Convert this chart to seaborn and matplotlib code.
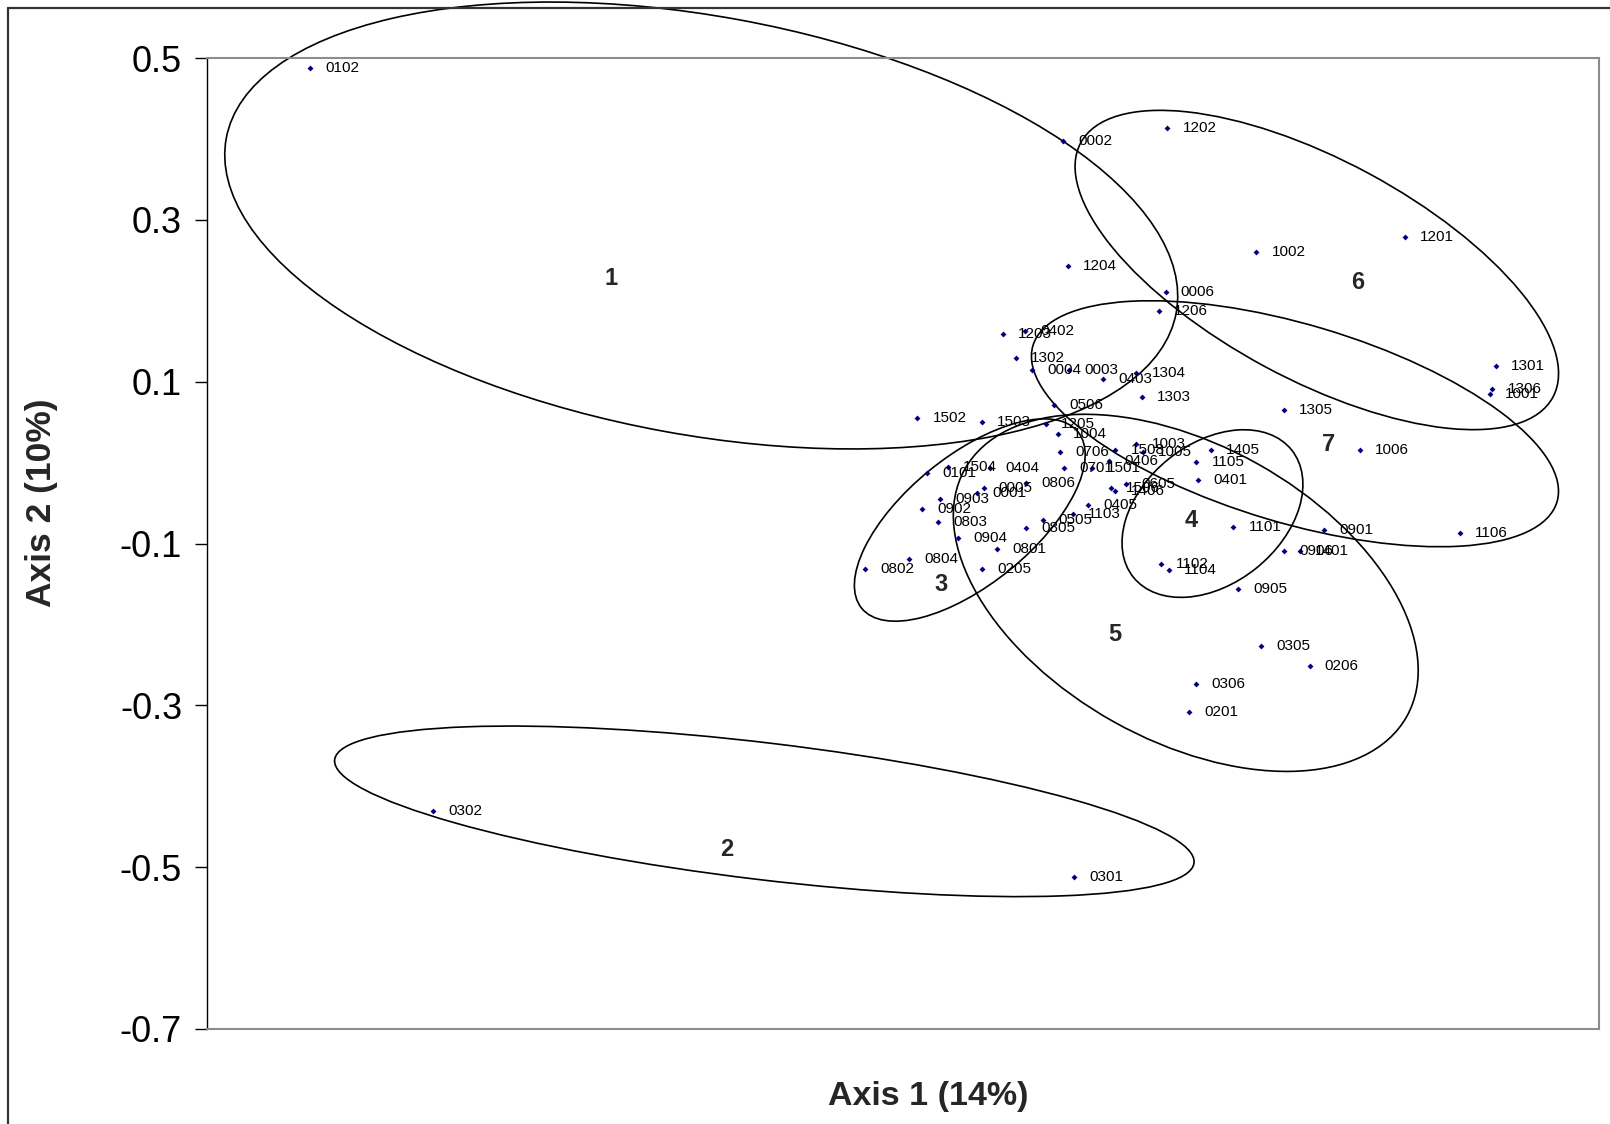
import matplotlib
matplotlib.use("Agg")
import matplotlib.pyplot as plt
from matplotlib.patches import Ellipse
from matplotlib.lines import Line2D
import seaborn as sns
import pandas as pd

# ---- data: sample labels and PCoA scores (axis 1 arbitrary units, axis 2 as read) ----
labels = ["0102", "0002", "1202", "1002", "1201", "1204", "0006", "1206", "1203", "0402",
          "1302", "0004", "0003", "0403", "1304", "1303", "0506", "1502", "1503", "1205",
          "1004", "0706", "0701", "1501", "0406", "1508", "1003", "1005", "1405", "1105",
          "0401", "1506", "1406", "0605", "0405", "1103", "0505", "0805", "0801", "0205",
          "0904", "0803", "0902", "0903", "0101", "1504", "0404", "0001", "0005", "0806",
          "0802", "0804", "1101", "0901", "1102", "1104", "0905", "1006", "1301", "1306",
          "1001", "1305", "1106", "0906", "1401", "0305", "0206", "0306", "0201", "0302",
          "0301"]
axis1 = [-0.923, 0.008, 0.137, 0.247, 0.431, 0.014, 0.135, 0.127, -0.066, -0.039,
         -0.050, -0.030, 0.016, 0.058, 0.099, 0.106, -0.003, -0.172, -0.092, -0.013,
         0.002, 0.005, 0.009, 0.044, 0.065, 0.073, 0.099, 0.107, 0.191, 0.173,
         0.175, 0.067, 0.073, 0.086, 0.039, 0.020, -0.016, -0.038, -0.073, -0.092,
         -0.122, -0.146, -0.166, -0.144, -0.160, -0.134, -0.082, -0.098, -0.090, -0.037,
         -0.236, -0.182, 0.219, 0.331, 0.129, 0.139, 0.225, 0.375, 0.543, 0.539,
         0.536, 0.281, 0.499, 0.281, 0.301, 0.253, 0.313, 0.173, 0.164, -0.771,
         0.022]
axis2 = [0.488, 0.397, 0.414, 0.260, 0.279, 0.243, 0.211, 0.187, 0.159, 0.163,
         0.129, 0.114, 0.114, 0.103, 0.111, 0.081, 0.071, 0.055, 0.050, 0.048,
         0.035, 0.013, -0.007, -0.007, 0.002, 0.015, 0.023, 0.013, 0.015, 0.001,
         -0.021, -0.031, -0.035, -0.027, -0.053, -0.063, -0.071, -0.081, -0.107, -0.131,
         -0.093, -0.073, -0.057, -0.045, -0.013, -0.005, -0.007, -0.037, -0.031, -0.025,
         -0.131, -0.119, -0.079, -0.083, -0.125, -0.133, -0.156, 0.015, 0.119, 0.091,
         0.085, 0.065, -0.087, -0.109, -0.109, -0.227, -0.252, -0.274, -0.308, -0.431,
         -0.512]

# cluster ellipses: id, centre, full width / height, rotation (deg)
group_ids = ["1", "2", "3", "4", "5", "6", "7"]
group_cx = [-0.439, -0.361, -0.107, 0.193, 0.160, 0.322, 0.295]
group_cy = [0.293, -0.431, -0.071, -0.063, -0.161, 0.238, 0.048]
group_w = [1.194, 1.070, 0.345, 0.251, 0.626, 0.663, 0.676]
group_h = [0.517, 0.169, 0.158, 0.173, 0.365, 0.271, 0.245]
group_angle = [-10.4, -6.85, 39.2, 38.8, -29.2, -28.3, -16.6]
group_lx = [-0.551, -0.407, -0.143, 0.167, 0.072, 0.373, 0.337]
group_ly = [0.227, -0.478, -0.151, -0.071, -0.213, 0.223, 0.022]

y_ticks = [0.5, 0.3, 0.1, -0.1, -0.3, -0.5, -0.7]

df = pd.DataFrame({"label": labels, "axis1": axis1, "axis2": axis2})

sns.set_style("white")
plt.rcParams["font.family"] = ["Liberation Sans", "DejaVu Sans"]

W, H = 1610, 1124
fig = plt.figure(figsize=(W / 100, H / 100), dpi=100)
ax = fig.add_axes([207 / W, 1 - 1029 / H, (1599 - 207) / W, (1029 - 58) / H])

sns.scatterplot(data=df, x="axis1", y="axis2", ax=ax, marker="D", s=9,
                color="#000080", linewidth=0, zorder=3)

for lab, x, y in zip(labels, axis1, axis2):
    ax.annotate(lab, (x, y), xytext=(11, 0), textcoords="offset points",
                ha="left", va="center", fontsize=11, color="black", zorder=4)

for gid, cx, cy, w, h, a, lx, ly in zip(group_ids, group_cx, group_cy, group_w,
                                         group_h, group_angle, group_lx, group_ly):
    ax.add_patch(Ellipse((cx, cy), w, h, angle=a, fill=False, edgecolor="black",
                         linewidth=1.2, clip_on=False, zorder=2))
    ax.text(lx, ly, gid, ha="center", va="center", fontsize=17,
            fontweight="bold", zorder=4)

x0 = -1.05
ax.set_xlim(x0, x0 + (1599 - 207) / 808.9)
ax.set_ylim(-0.7, 0.5)
ax.set_yticks(y_ticks)
ax.set_yticklabels([f"{t:.1f}" for t in y_ticks], fontsize=26)
ax.set_xticks([])
ax.tick_params(axis="y", direction="out", length=9, width=1, pad=9,
               left=True, colors="black")
ax.set_xlabel("Axis 1 (14%)", fontsize=24.5, fontweight="bold")
ax.set_ylabel("Axis 2 (10%)", fontsize=25.5, fontweight="bold")
ax.xaxis.set_label_coords((928 - 207) / (1599 - 207), -(1081 - 1029) / (1029 - 58))
ax.yaxis.set_label_coords(-(207 - 58) / (1599 - 207), (1029 - 503) / (1029 - 58))

for side in ["top", "bottom", "right"]:
    ax.spines[side].set_color("#8c8c8c")
    ax.spines[side].set_linewidth(1.5)
ax.spines["left"].set_color("black")
ax.spines["left"].set_linewidth(1.0)

# outer frame lines (top and left edges of the chart area)
fig.add_artist(Line2D([8 / W, 1], [1 - 7.5 / H, 1 - 7.5 / H], color="#333333", linewidth=1.6))
fig.add_artist(Line2D([8 / W, 8 / W], [0, 1 - 7.5 / H], color="#333333", linewidth=1.6))

fig.savefig("out.png", dpi=100)
